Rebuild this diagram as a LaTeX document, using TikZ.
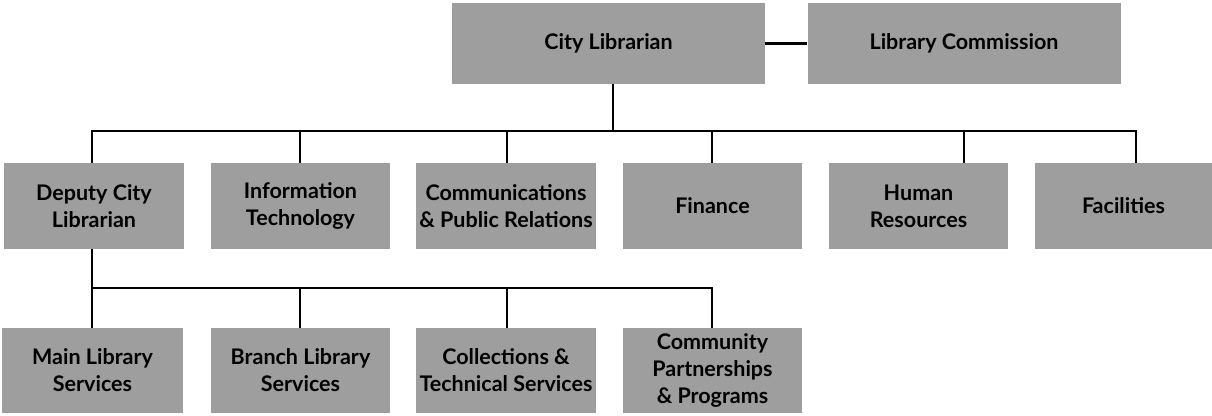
\documentclass[tikz,border=0pt]{standalone}
\usepackage{fontspec}
\setmainfont{Lato}
\definecolor{boxgray}{gray}{0.62}
\begin{document}
\begin{tikzpicture}[x=1pt,y=-1pt,
  box/.style={fill=boxgray, draw=none, inner sep=0pt, align=center, text=black,
    font=\bfseries\fontsize{21.5}{27}\selectfont},
  top/.style={box, minimum width=313pt, minimum height=81pt},
  mid/.style={box, minimum width=179pt, minimum height=86pt},
  bot/.style={box, minimum width=180pt, minimum height=85pt},
  conn/.style={draw=black, line width=1.7pt}]
\useasboundingbox (0,0) rectangle (1212,415);
% top row
\node[top] (cl) at (608.5,43.5) {City Librarian};
\node[top] (lc) at (964,43.5) {Library Commission};
% middle row
\node[mid, minimum width=180pt] (dcl) at (94,206) {Deputy City\\Librarian};
\node[mid] (it) at (300.5,206) {Information\\Technology};
\node[mid, minimum width=180pt] (com) at (506,206) {Communications\\\& Public Relations};
\node[mid] (fin) at (712.5,206) {Finance};
\node[mid] (hr) at (918.5,206) {Human\\Resources};
\node[mid, minimum width=177pt] (fac) at (1123.5,206) {Facilities};
% bottom row
\node[bot, minimum width=181pt] (mls) at (92.5,370.5) {Main Library\\Services};
\node[bot, minimum width=179pt] (bls) at (300.5,370.5) {Branch Library\\Services};
\node[bot] (cts) at (506,370.5) {Collections \&\\Technical Services};
\node[bot, minimum width=179pt] (cpp) at (712.5,370.5) {Community\\Partnerships\\\& Programs};
% connectors
\draw[conn, line width=2.2pt] (cl.east) -- (lc.west);
\coordinate (b0) at (613,131);
\coordinate (b1) at (92,131);
\coordinate (b2) at (300,131);
\coordinate (b3) at (507,131);
\coordinate (b4) at (712,131);
\coordinate (b5) at (964,131);
\coordinate (b6) at (1136,131);
\draw[conn] (b0 |- cl.south) -- (b0);
\draw[conn, line width=2.2pt, line cap=rect] (b1) -- (b6);
\draw[conn] (b1) -- (b1 |- dcl.north);
\draw[conn, line width=1.3pt] (b2) -- (b2 |- it.north);
\draw[conn, line width=1.3pt] (b3) -- (b3 |- com.north);
\draw[conn] (b4) -- (b4 |- fin.north);
\draw[conn] (b5) -- (b5 |- hr.north);
\draw[conn] (b6) -- (b6 |- fac.north);
\coordinate (d1) at (92,288);
\coordinate (d2) at (300,288);
\coordinate (d3) at (507,288);
\coordinate (d4) at (712,288);
\draw[conn] (d1 |- dcl.south) -- (d1);
\draw[conn, line width=2.2pt, line cap=rect] (d1) -- (d4);
\draw[conn] (d1) -- (d1 |- mls.north);
\draw[conn, line width=1.3pt] (d2) -- (d2 |- bls.north);
\draw[conn] (d3) -- (d3 |- cts.north);
\draw[conn] (d4) -- (d4 |- cpp.north);
\end{tikzpicture}
\end{document}
